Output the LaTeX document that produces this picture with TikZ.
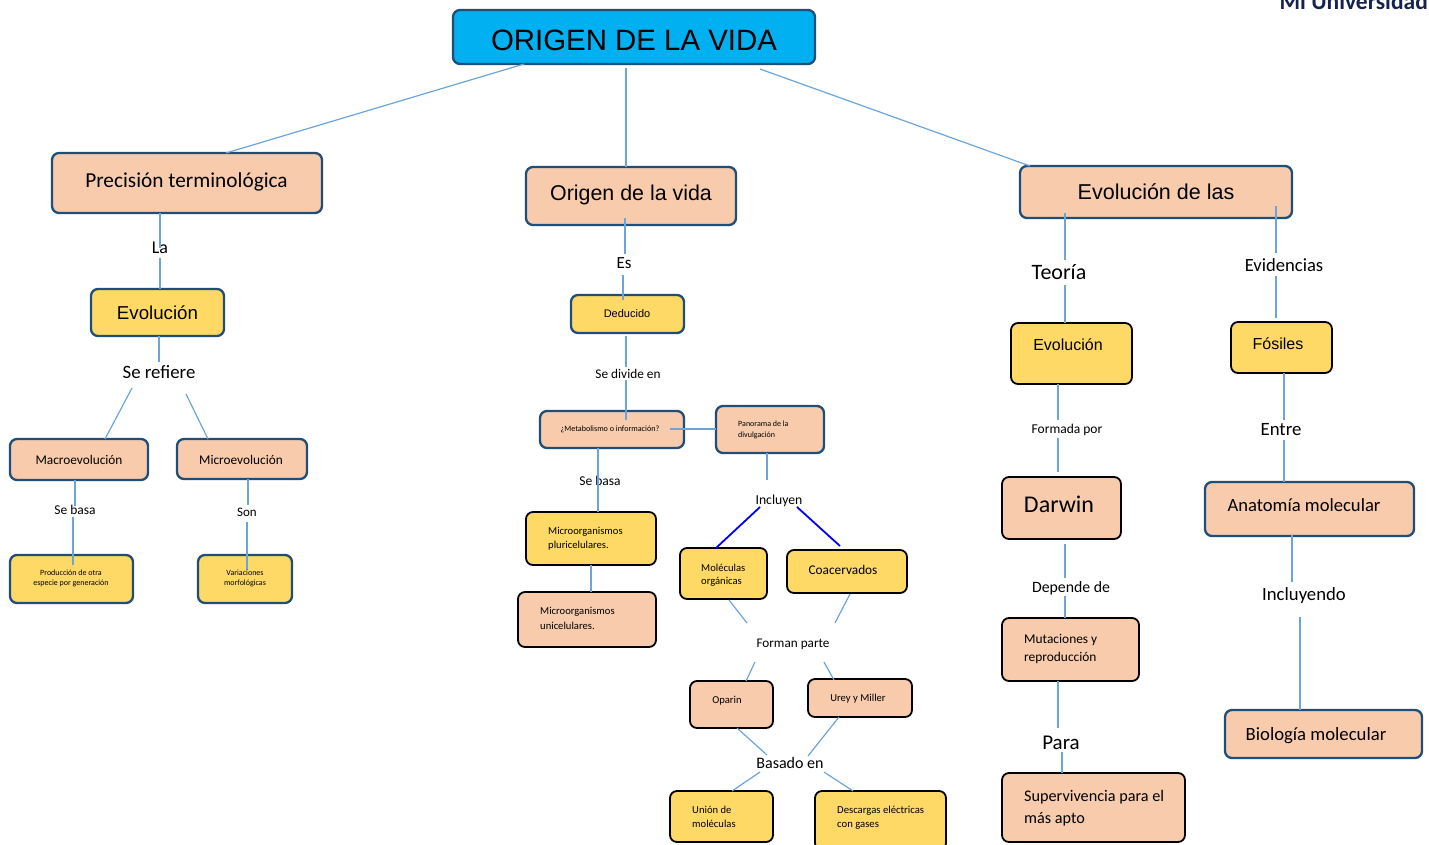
\documentclass[tikz,border=0pt]{standalone}
\usepackage{fontspec}
\setmainfont{Carlito}
\newfontfamily\arialf{Liberation Sans}
\definecolor{peach}{HTML}{F7CBAC}
\definecolor{yell}{HTML}{FFD966}
\definecolor{navy}{HTML}{1F4E79}
\definecolor{sky}{HTML}{00B0F0}
\definecolor{linec}{HTML}{6BA5DE}
\definecolor{logoc}{HTML}{14234F}
\tikzset{
 bx/.style={rounded corners=7pt,line width=2.3pt,inner sep=0pt,outer sep=0pt},
 pn/.style={bx,draw=navy,fill=peach},
 yn/.style={bx,draw=navy,fill=yell},
 pk/.style={bx,draw=black,fill=peach,line width=1.8pt},
 yk/.style={bx,draw=black,fill=yell,line width=1.8pt},
 lbl/.style={inner sep=0pt,text=black,yshift=-1pt},
 conn/.style={draw=linec,line width=1.2pt},
 bconn/.style={draw=blue,line width=1.8pt},
}
% box: name, x0, y0, x1, y1, style
\newcommand\boxn[6]{\node[#6,minimum width=#4pt-#2pt,minimum height=#5pt-#3pt,anchor=north west] (#1) at (#2,#3) {};}
\newcommand\tx[4][]{\node[lbl,#1] at (#2,#3) {#4};}
\newcommand\pt[3]{\coordinate (#1) at (#2,#3);}
\newcommand\fs[1]{\fontsize{#1}{#1}\selectfont}
\begin{document}
\begin{tikzpicture}[x=1pt,y=-1pt]
\useasboundingbox (0,0) rectangle (1429,844);
% boxes
\boxn{title}{453}{10}{815}{64}{bx,draw=navy,fill=sky}
\boxn{prec}{52}{153}{322}{213}{pn}
\boxn{orig}{526}{167}{736}{225}{pn}
\boxn{evlas}{1020}{166}{1292}{218}{pn}
\boxn{evol}{91}{289}{224}{336}{yn}
\boxn{macro}{10}{439}{148}{480}{pn}
\boxn{micro}{177}{439}{307}{479}{pn}
\boxn{prod}{10}{555}{133}{603}{yn}
\boxn{vari}{198}{555}{292}{603}{yn}
\boxn{dedu}{571}{295}{684}{333}{yn}
\boxn{meta}{540}{411}{684}{448}{pn}
\boxn{pano}{716}{406}{824}{453}{pn}
\boxn{pluri}{526}{512}{656}{565}{yk}
\boxn{uni}{518}{592}{656}{647}{pk}
\boxn{mole}{680}{548}{767}{599}{yk}
\boxn{coac}{787}{550}{907}{593}{yk}
\boxn{opar}{690}{681}{773}{728}{pk}
\boxn{urey}{808}{679}{912}{717}{pk}
\boxn{union}{670}{791}{773}{842}{yk}
\boxn{desc}{815}{791}{946}{850}{yk}
\boxn{evo2}{1011}{323}{1132}{384}{yk}
\boxn{fosi}{1231}{322}{1332}{373}{yk}
\boxn{darw}{1002}{477}{1121}{539}{pk}
\boxn{anat}{1205}{482}{1414}{536}{pn}
\boxn{muta}{1002}{618}{1139}{681}{pk}
\boxn{supe}{1002}{773}{1185}{842}{pk}
\boxn{biol}{1225}{710}{1422}{758}{pn}
% label nodes
\node[lbl,font=\fs{18}] (la) at (160,247) {La};
\node[lbl,font=\fs{18.8}] (serefiere) at (159,371) {Se refiere};
\node[lbl,font=\fs{13.5}] (sebasa1) at (75,509) {Se basa};
\node[lbl,font=\fs{13}] (son) at (247,511) {Son};
\node[lbl,font=\fs{17}] (es) at (624,262) {Es};
\node[lbl,font=\fs{13.3}] (sedivide) at (628,373) {Se divide en};
\node[lbl,font=\fs{13.5}] (sebasa2) at (600,480) {Se basa};
\node[lbl,font=\fs{13.7}] (incluyen) at (779,500) {Incluyen};
\node[lbl,font=\fs{13.2}] (forman) at (793,643) {Forman parte};
\node[lbl,font=\fs{16}] (basado) at (790,762) {Basado en};
\node[lbl,font=\fs{22}] (teoria) at (1059,271) {Teoría};
\node[lbl,font=\fs{18.6}] (evid) at (1284,264) {Evidencias};
\node[lbl,font=\fs{13.5}] (formada) at (1067,429) {Formada por};
\node[lbl,font=\fs{18.8}] (entre) at (1281,429) {Entre};
\node[lbl,font=\fs{15.8}] (depende) at (1071,587) {Depende de};
\node[lbl,font=\fs{18.7}] (incl2) at (1304,595) {Incluyendo};
\node[lbl,font=\fs{21}] (para) at (1061,742) {Para};
% free ends of connectors
\pt{a1}{524}{64}\pt{a2}{226}{153}
\pt{b1}{626}{68}\pt{b2}{626}{167}
\pt{c1}{760}{69}\pt{c2}{1030}{166}
\pt{d1}{160}{213}\pt{d2}{160}{248}
\pt{d3}{160}{258}\pt{d4}{160}{289}
\pt{e1}{159}{336}\pt{e2}{159}{362}
\pt{f1}{132}{388}\pt{f2}{105}{439}
\pt{g1}{186}{394}\pt{g2}{208}{439}
\pt{h1}{75}{480}\pt{h2}{75}{506}
\pt{h3}{73}{517}\pt{h4}{73}{565}
\pt{i1}{248}{479}\pt{i2}{248}{505}
\pt{i3}{247}{522}\pt{i4}{247}{570}
\pt{j1}{625}{218}\pt{j2}{625}{254}
\pt{j3}{623}{275}\pt{j4}{623}{300}
\pt{k1}{626}{336}\pt{k2}{626}{367}
\pt{k3}{626}{380}\pt{k4}{626}{420}
\pt{l1}{670}{429}\pt{l2}{716}{429}
\pt{m1}{767}{453}\pt{m2}{767}{480}
\pt{n1}{760}{507}\pt{n2}{716}{548}
\pt{o1}{797}{507}\pt{o2}{840}{546}
\pt{p1}{598}{448}\pt{p2}{598}{512}
\pt{q1}{591}{565}\pt{q2}{591}{592}
\pt{r1}{729}{600}\pt{r2}{747}{623}
\pt{s1}{850}{594}\pt{s2}{835}{623}
\pt{t1}{755}{662}\pt{t2}{746}{681}
\pt{u1}{824}{662}\pt{u2}{834}{680}
\pt{v1}{737}{728}\pt{v2}{767}{755}
\pt{w1}{839}{717}\pt{w2}{808}{756}
\pt{x1}{760}{772}\pt{x2}{732}{791}
\pt{y1}{824}{772}\pt{y2}{853}{791}
\pt{z1}{1065}{213}\pt{z2}{1065}{260}
\pt{z3}{1065}{285}\pt{z4}{1065}{323}
\pt{aa1}{1276}{206}\pt{aa2}{1276}{253}
\pt{aa3}{1276}{276}\pt{aa4}{1276}{318}
\pt{ab1}{1058}{384}\pt{ab2}{1058}{420}
\pt{ab3}{1058}{438}\pt{ab4}{1058}{472}
\pt{ac1}{1284}{373}\pt{ac2}{1284}{420}
\pt{ac3}{1284}{440}\pt{ac4}{1284}{482}
\pt{ad1}{1065}{544}\pt{ad2}{1065}{578}
\pt{ad3}{1065}{596}\pt{ad4}{1065}{618}
\pt{ae1}{1292}{535}\pt{ae2}{1292}{582}
\pt{ae3}{1300}{617}\pt{ae4}{1300}{710}
\pt{af1}{1058}{681}\pt{af2}{1058}{728}
\pt{af3}{1062}{752}\pt{af4}{1062}{773}
% connectors
\foreach \p/\q in {a1/a2,b1/b2,c1/c2,d1/d2,d3/d4,e1/e2,f1/f2,g1/g2,h1/h2,h3/h4,i1/i2,i3/i4,j1/j2,j3/j4,k1/k2,k3/k4,l1/l2,m1/m2,p1/p2,q1/q2,r1/r2,s1/s2,t1/t2,u1/u2,v1/v2,w1/w2,x1/x2,y1/y2,z1/z2,z3/z4,aa1/aa2,aa3/aa4,ab1/ab2,ab3/ab4,ac1/ac2,ac3/ac4,ad1/ad2,ad3/ad4,ae1/ae2,ae3/ae4,af1/af2,af3/af4}
  \draw[conn] (\p) -- (\q);
\draw[bconn] (n1) -- (n2);
\draw[bconn] (o1) -- (o2);
% box texts
\tx[font=\arialf\fs{29.4}]{634}{39}{ORIGEN DE LA VIDA}
\tx[font=\fs{21.3}]{186.5}{181}{Precisión terminológica}
\tx[font=\arialf\fs{21.4}]{631}{194}{Origen de la vida}
\tx[font=\arialf\fs{21.5}]{1156}{191}{Evolución de las}
\tx[font=\arialf\fs{18.7}]{157.5}{312}{Evolución}
\tx[font=\fs{13.3}]{79}{459}{Macroevolución}
\tx[font=\fs{13.3}]{241}{459}{Microevolución}
\tx[font=\fs{8}]{71}{572}{Producción de otra}
\tx[font=\fs{8}]{71}{582}{especie por generación}
\tx[font=\fs{8}]{245}{572}{Variaciones}
\tx[font=\fs{8}]{245}{582}{morfológicas}
\tx[font=\arialf\fs{11}]{627}{313}{Deducido}
\tx[font=\fs{8.1}]{610}{428}{¿Metabolismo o información?}
\tx[font=\fs{8},anchor=west]{738}{423}{Panorama de la}
\tx[font=\fs{8},anchor=west]{738}{434}{divulgación}
\tx[font=\fs{10.6},anchor=west]{548}{531}{Microorganismos}
\tx[font=\fs{10.6},anchor=west]{548}{545}{pluricelulares.}
\tx[font=\fs{10.6},anchor=west]{540}{611}{Microorganismos}
\tx[font=\fs{10.6},anchor=west]{540}{625}{unicelulares.}
\tx[font=\fs{10.6},anchor=west]{701}{567}{Moléculas}
\tx[font=\fs{10.6},anchor=west]{701}{581}{orgánicas}
\tx[font=\fs{13.3}]{843}{569}{Coacervados}
\tx[font=\fs{10.6}]{727}{700}{Oparin}
\tx[font=\fs{10.6}]{858}{698}{Urey y Miller}
\tx[font=\fs{10.6},anchor=west]{692}{809}{Unión de}
\tx[font=\fs{10.6},anchor=west]{692}{823}{moléculas}
\tx[font=\fs{10.7},anchor=west]{837}{810}{Descargas eléctricas}
\tx[font=\fs{10.7},anchor=west]{837}{825}{con gases}
\tx[font=\arialf\fs{16}]{1068}{344}{Evolución}
\tx[font=\arialf\fs{16}]{1278}{343}{Fósiles}
\tx[font=\fs{24}]{1059}{503}{Darwin}
\tx[font=\fs{18.6}]{1304}{504}{Anatomía molecular}
\tx[font=\fs{13.4},anchor=west]{1024}{639}{Mutaciones y}
\tx[font=\fs{13.4},anchor=west]{1024}{657}{reproducción}
\tx[font=\fs{16.2},anchor=west]{1024}{796}{Supervivencia para el}
\tx[font=\fs{16.2},anchor=west]{1024}{818}{más apto}
\tx[font=\fs{18.7}]{1316}{735}{Biología molecular}
\node[inner sep=0pt,text=logoc,anchor=base east,font=\fs{23.5}\bfseries] (logo) at (1428,9) {Mi Universidad};
\end{tikzpicture}
\end{document}
